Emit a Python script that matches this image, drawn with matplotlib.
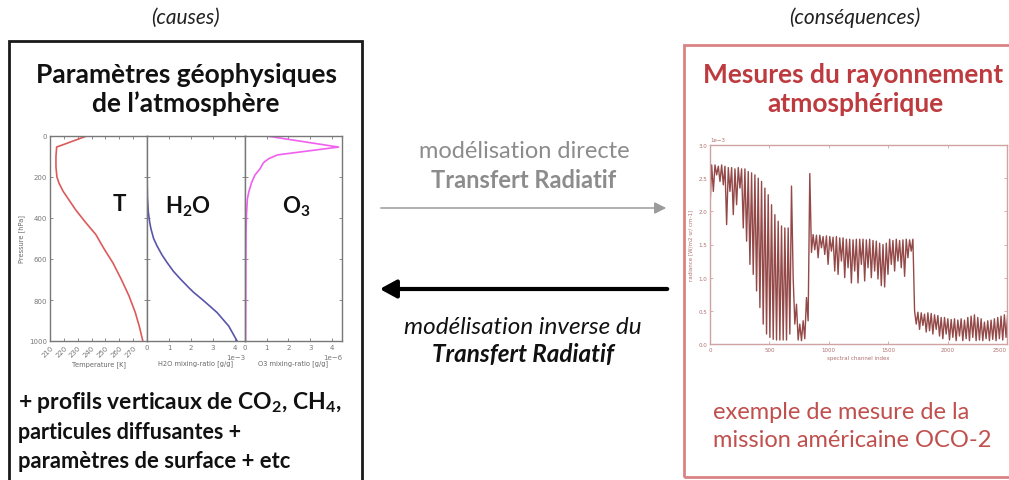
import numpy as np
import matplotlib
matplotlib.use('Agg')
import matplotlib.pyplot as plt
from matplotlib.patches import Rectangle, FancyArrowPatch

plt.rcParams['mathtext.fontset'] = 'custom'
plt.rcParams['mathtext.rm'] = 'Lato'
plt.rcParams['mathtext.bf'] = 'Lato:bold'
plt.rcParams['mathtext.it'] = 'Lato:italic'

W, H = 1009, 481

# --- vertical profiles (left box) ---
t_pres = [0, 54, 100, 150, 200, 230, 270, 310, 360, 420, 480, 550, 620, 700, 780, 860, 930, 1000]
t_temp = [236.5, 214.8, 214.3, 214.3, 215.0, 216.5, 219.5, 223.5, 228.5, 235.5, 243.0, 249.0,
          255.5, 261.5, 267.0, 271.5, 274.5, 277.0]

h2o_pres = [0, 100, 200, 300, 370, 420, 453, 500, 535, 580, 617, 660, 698, 740, 763, 804, 861, 927, 1000]
h2o_mr = [0.0, 0.0, 0.005, 0.02, 0.06, 0.12, 0.18, 0.3, 0.45, 0.68, 0.91, 1.2, 1.52, 1.9, 2.12,
          2.58, 3.18, 3.71, 4.09]  # x 1e-3 g/g

o3_pres = [0, 54, 92, 110, 130, 160, 190, 225, 270, 307, 380, 453, 600, 800, 1000]
o3_mr = [1.0, 4.3, 1.5, 1.1, 0.85, 0.69, 0.46, 0.31, 0.18, 0.11, 0.07, 0.05, 0.04, 0.035, 0.03]  # x 1e-6 g/g

# --- OCO-2 spectrum, read every 14 channels (right box), x 1e-3 ---
radiance = [
    # band 1 (O2 A-band)
    2.05, 2.70, 2.30, 2.70, 2.55, 2.68, 2.45, 2.70, 2.40, 2.68,
    1.80, 2.66, 2.30, 2.66, 1.95, 2.64, 2.10, 2.66, 2.35, 2.64,
    1.75, 2.64, 1.55, 2.60, 1.20, 2.58, 1.05, 2.55, 0.80, 2.50,
    0.55, 2.45, 0.30, 2.35, 0.15, 2.25, 0.10, 2.10, 0.07, 1.95,
    0.06, 1.85, 0.06, 1.78, 0.06, 1.75, 0.06, 1.75, 0.15, 2.38,
    1.00, 0.30, 0.60, 0.06, 0.30, 0.05, 0.35, 0.08, 0.70, 0.35,
    2.57,
    # band 2 (weak CO2)
    1.38, 1.65, 1.42, 1.64, 1.30, 1.64, 1.45, 1.62, 1.35, 1.63,
    1.20, 1.62, 1.40, 1.61, 1.10, 1.62, 1.05, 1.60, 1.25, 1.60,
    1.00, 1.58, 1.15, 1.58, 0.92, 1.57, 1.10, 1.58, 0.92, 1.58,
    1.20, 1.58, 0.95, 1.57, 1.15, 1.58, 1.00, 1.56, 1.10, 1.55,
    0.98, 1.52, 0.88, 1.50, 0.86, 1.52, 1.05, 1.58, 1.20, 1.56,
    1.10, 1.58, 1.25, 1.56, 1.15, 1.57, 1.02, 1.58, 1.30, 1.57,
    1.40, 1.58,
    # band 3 (strong CO2)
    0.50, 0.30, 0.48, 0.22, 0.47, 0.28, 0.45, 0.18, 0.47, 0.20,
    0.46, 0.15, 0.44, 0.22, 0.43, 0.12, 0.40, 0.08, 0.40, 0.15,
    0.38, 0.06, 0.37, 0.10, 0.38, 0.05, 0.36, 0.12, 0.38, 0.05,
    0.36, 0.08, 0.40, 0.05, 0.42, 0.10, 0.44, 0.05, 0.40, 0.06,
    0.38, 0.05, 0.33, 0.08, 0.35, 0.05, 0.36, 0.07, 0.38, 0.05,
    0.40, 0.08, 0.42, 0.06, 0.44, 0.10, 0.45,
]
channel = np.arange(len(radiance)) * 14

FONT = 'Lato'
RED_TITLE = '#bd3a3e'
RED_TEXT = '#c0504d'
RED_PLOT = '#7a1c1c'
RED_AXIS = '#cfa3a3'


def rect(x0, y0, x1, y1):
    # pixel box (top-left origin) -> figure fraction rect
    return [x0 / W, 1 - y1 / H, (x1 - x0) / W, (y1 - y0) / H]


def ftext(x, y, s, **kw):
    kw.setdefault('family', FONT)
    kw.setdefault('ha', 'center')
    kw.setdefault('va', 'center')
    fig.text(x / W, 1 - y / H, s, **kw)


fig = plt.figure(figsize=(W / 100, H / 100), dpi=100)

# boxes
fig.add_artist(Rectangle((9 / W, 1 - 500 / H), 353 / W, 458 / H, transform=fig.transFigure,
                         fill=False, ec='#1a1a1a', lw=2, clip_on=False))
fig.add_artist(Rectangle((684 / W, 1 - 478 / H), 340 / W, 432 / H, transform=fig.transFigure,
                         fill=False, ec='#d98383', lw=2, clip_on=False))

# header texts
ftext(185, 18, '(causes)', style='italic', fontsize=15, color='#222222')
ftext(855, 18, '(conséquences)', style='italic', fontsize=15, color='#222222')
ftext(186, 75, 'Paramètres géophysiques', weight='bold', fontsize=19, color='#111111')
ftext(186, 104, 'de l’atmosphère', weight='bold', fontsize=19, color='#111111')
ftext(853, 75, 'Mesures du rayonnement', weight='bold', fontsize=19, color=RED_TITLE)
ftext(855, 104, 'atmosphérique', weight='bold', fontsize=19, color=RED_TITLE)

# bottom texts
ftext(18, 403, r'+ profils verticaux de CO$_\mathbf{2}$, CH$_\mathbf{4}$,', ha='left',
      weight='bold', fontsize=16.5, color='#111111')
ftext(18, 433, 'particules diffusantes +', ha='left', weight='bold', fontsize=15.5, color='#111111')
ftext(18, 462, 'paramètres de surface + etc', ha='left', weight='bold', fontsize=15.8, color='#111111')
ftext(713, 413, 'exemple de mesure de la', ha='left', fontsize=17, color=RED_TEXT)
ftext(713, 441, 'mission américaine OCO-2', ha='left', fontsize=17, color=RED_TEXT)

# arrows + middle texts
ftext(524, 152, 'modélisation directe', fontsize=17, color='#8c8c8c')
ftext(524, 180, 'Transfert Radiatif', weight='bold', fontsize=17, color='#8c8c8c')
fig.add_artist(FancyArrowPatch((378 / W, 1 - 209 / H), (669 / W, 1 - 209 / H),
                               transform=fig.transFigure, arrowstyle='-|>,head_length=0.5,head_width=0.25',
                               mutation_scale=14, color='#9b9b9b', lw=1.1))
fig.add_artist(FancyArrowPatch((670 / W, 1 - 290 / H), (377 / W, 1 - 290 / H),
                               transform=fig.transFigure, arrowstyle='-|>,head_length=0.55,head_width=0.3',
                               mutation_scale=18, color='black', lw=3))
ftext(523, 328, 'modélisation inverse du', style='italic', fontsize=17.5, color='#111111')
ftext(523, 355, 'Transfert Radiatif', style='italic', weight='bold', fontsize=17.5, color='#111111')


def style_axis(ax, color):
    ax.tick_params(direction='in', top=True, right=True, labelsize=5, length=2.5,
                   width=0.6, colors=color, pad=2)
    for sp in ax.spines.values():
        sp.set_color(color)
        sp.set_linewidth(1.0)
    ax.xaxis.get_offset_text().set_fontsize(5)
    ax.yaxis.get_offset_text().set_fontsize(5)


# profile axes
ax_t = fig.add_axes(rect(50, 137, 147, 342))
ax_h = fig.add_axes(rect(147, 137, 245, 342), sharey=ax_t)
ax_o = fig.add_axes(rect(245, 137, 342, 342), sharey=ax_t)

ax_t.plot(t_temp, t_pres, color='#dd5a5a', lw=1.2)
ax_t.set_xlim(210, 280)
ax_t.set_xticks([210, 220, 230, 240, 250, 260, 270])
ax_t.set_ylim(1000, 0)
ax_t.set_yticks([0, 200, 400, 600, 800, 1000])
ax_t.set_ylabel('Pressure [hPa]', fontsize=4.8, color='#666666', labelpad=3)
ax_t.set_xlabel('Temperature [K]', fontsize=4.8, color='#666666', labelpad=2)
style_axis(ax_t, '#777777')
plt.setp(ax_t.get_xticklabels(), rotation=45, ha='right', rotation_mode='anchor')

ax_h.plot(np.array(h2o_mr) * 1e-3, h2o_pres, color='#5a55aa', lw=1.2)
ax_h.set_xlim(0, 4.45e-3)
ax_h.set_xticks(np.array([0, 1, 2, 3, 4]) * 1e-3)
ax_h.ticklabel_format(axis='x', style='sci', scilimits=(0, 0))
ax_h.set_xlabel('H2O mixing-ratio [g/g]', fontsize=4.8, color='#666666', labelpad=7)
style_axis(ax_h, '#777777')
ax_h.tick_params(labelleft=False)

ax_o.plot(np.array(o3_mr) * 1e-6, o3_pres, color='#f060f0', lw=1.2)
ax_o.set_xlim(0, 4.46e-6)
ax_o.set_xticks(np.array([0, 1, 2, 3, 4]) * 1e-6)
ax_o.ticklabel_format(axis='x', style='sci', scilimits=(0, 0))
ax_o.set_xlabel('O3 mixing-ratio [g/g]', fontsize=4.8, color='#666666', labelpad=7)
style_axis(ax_o, '#777777')
ax_o.tick_params(labelleft=False)

ax_t.text(0.72, 0.67, 'T', transform=ax_t.transAxes, ha='center', va='center',
          family=FONT, weight='bold', fontsize=16, color='#111111')
ax_h.text(0.42, 0.66, r'H$_\mathbf{2}$O', transform=ax_h.transAxes, ha='center', va='center',
          family=FONT, weight='bold', fontsize=16, color='#111111')
ax_o.text(0.53, 0.66, r'O$_\mathbf{3}$', transform=ax_o.transAxes, ha='center', va='center',
          family=FONT, weight='bold', fontsize=16, color='#111111')

# spectrum axes
ax_s = fig.add_axes(rect(710, 146, 1007, 345))
ax_s.plot(channel, np.array(radiance) * 1e-3, color=RED_PLOT, lw=1.0, alpha=0.8)
ax_s.set_xlim(0, 2500)
ax_s.set_ylim(0, 3e-3)
ax_s.set_yticks(np.arange(0, 3.01, 0.5) * 1e-3)
ax_s.ticklabel_format(axis='y', style='sci', scilimits=(0, 0))
ax_s.set_xlabel('spectral channel index', fontsize=4, color='#b07070', labelpad=2)
ax_s.set_ylabel('radiance [W/m2 sr/ cm-1]', fontsize=4, color='#b07070', labelpad=4)
style_axis(ax_s, RED_AXIS)
ax_s.tick_params(labelsize=4, labelcolor='#b07070')
ax_s.xaxis.get_offset_text().set_fontsize(4)
ax_s.yaxis.get_offset_text().set_fontsize(4)
ax_s.yaxis.get_offset_text().set_color('#b07070')
fig.canvas.draw()
ax_s.get_xticklabels()[-1].set_ha('right')

fig.savefig('out.png', dpi=100)
